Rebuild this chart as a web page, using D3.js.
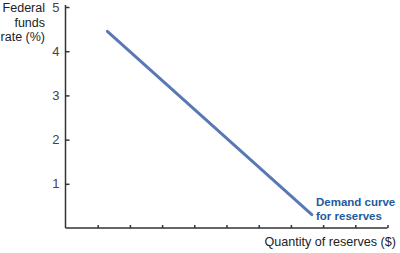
<!DOCTYPE html>
<html>
<head>
<meta charset="utf-8">
<script src="https://cdn.jsdelivr.net/npm/d3@7"></script>
<style>
  body { margin: 0; background: #fff; }
  text { font-family: "Liberation Sans", Arial, sans-serif; }
</style>
</head>
<body>
<script>
var WIDTH = 400;
var HEIGHT = 253;

// quantity of reserves (unlabelled units), federal funds rate (%)
var demandQty = [1.3, 7.65];
var demandRate = [4.45, 0.3];
var yTicks = [1, 2, 3, 4, 5];
var xTicks = [1, 2, 3, 4, 5, 6, 7, 8, 9, 10];
var yTitle = ["Federal", "funds", "rate (%)"];
var xTitle = "Quantity of reserves ($)";
var curveLabel = ["Demand curve", "for reserves"];

var svg = d3.select("body")
  .append("svg")
  .attr("width", WIDTH)
  .attr("height", HEIGHT);

var x = d3.scaleLinear().domain([0, 10]).range([65.5, 387.5]);
var y = d3.scaleLinear().domain([0, 5]).range([228, 7]);

// y axis, ticks pointing inward
var yAxis = svg.append("g")
  .attr("transform", "translate(" + x(0) + ",0)")
  .call(d3.axisRight(y).tickValues(yTicks).tickSize(4).tickFormat(d3.format("d")));
yAxis.select(".domain").attr("d", "M0," + y(0) + "V" + (y(5) - 2));
yAxis.selectAll("text")
  .attr("x", -6)
  .attr("text-anchor", "end")
  .attr("fill", "#444")
  .style("font-size", "13px");

// x axis, ticks pointing up
var xAxis = svg.append("g")
  .attr("transform", "translate(0," + y(0) + ")")
  .call(d3.axisTop(x).tickValues(xTicks).tickSize(3).tickFormat(""));
xAxis.select(".domain").attr("d", "M" + x(0) + ",0H" + x(10));

svg.selectAll(".domain, .tick line")
  .attr("stroke", "#333")
  .attr("stroke-width", 1.5);

// demand curve
var pts = demandQty.map(function (d, i) {
  return [d, demandRate[i]];
});
svg.append("path")
  .datum(pts)
  .attr("fill", "none")
  .attr("stroke", "#5a78b4")
  .attr("stroke-width", 3)
  .attr("stroke-linecap", "round")
  .attr("d", d3.line()
    .x(function (d) { return x(d[0]); })
    .y(function (d) { return y(d[1]); }));

svg.append("text")
  .attr("x", 316)
  .attr("y", 206)
  .attr("fill", "#1f5a9c")
  .style("font-size", "11.5px")
  .style("font-weight", "bold")
  .selectAll("tspan")
  .data(curveLabel)
  .enter()
  .append("tspan")
  .attr("x", 316)
  .attr("dy", function (d, i) { return i === 0 ? 0 : 13.5; })
  .text(function (d) { return d; });

// axis titles
svg.append("text")
  .attr("text-anchor", "end")
  .attr("fill", "#222")
  .style("font-size", "12.5px")
  .selectAll("tspan")
  .data(yTitle)
  .enter()
  .append("tspan")
  .attr("x", 45)
  .attr("y", function (d, i) { return 12 + i * 14.5; })
  .text(function (d) { return d; });

svg.append("text")
  .attr("x", 396)
  .attr("y", 246)
  .attr("text-anchor", "end")
  .attr("fill", "#222")
  .style("font-size", "12.6px")
  .text(xTitle);
</script>
</body>
</html>
